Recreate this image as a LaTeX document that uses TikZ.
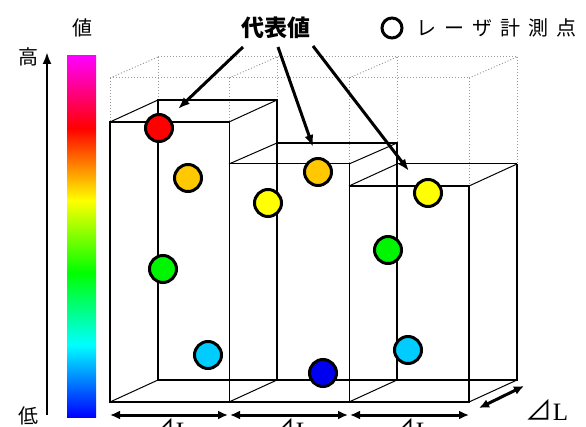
\documentclass[tikz,border=0pt]{standalone}
\usepackage{fontspec}
\setmainfont{Liberation Serif}
\newfontfamily\jp{Noto Sans CJK JP}
\usetikzlibrary{arrows.meta}
\pgfdeclareverticalshading{rainbowbar}{100bp}{color(0bp)=(blue); color(25bp)=(blue); color(35bp)=(cyan); color(45bp)=(green); color(55bp)=(yellow); color(65bp)=(red); color(75bp)=(magenta); color(100bp)=(magenta)}
\definecolor{ptorange}{RGB}{255,200,0}
\definecolor{ptyellow}{RGB}{255,255,0}
\definecolor{ptgreen}{RGB}{0,245,0}
\definecolor{ptcyan}{RGB}{0,204,255}
\definecolor{ptblue}{RGB}{0,0,240}
\definecolor{ptred}{RGB}{255,0,0}
\tikzset{
  thickedge/.style={line width=2.6pt, line join=miter},
  thinedge/.style={line width=1pt},
  maxgrid/.style={draw=gray!80, line width=1pt, dotted},
  pt/.style={circle, draw=black, line width=3pt, minimum size=27pt, inner sep=0pt},
  bigarrow/.style={line width=3pt, -{Latex[length=12pt,width=9pt]}},
  dimarrow/.style={line width=3pt, {Latex[length=10pt,width=9pt]}-{Latex[length=10pt,width=9pt]}},
  jplabel/.style={font=\jp\fontsize{20}{20}\selectfont, inner sep=0pt},
  dl/.style={font=\fontsize{25}{25}\selectfont, inner sep=0pt}
}
\newcommand{\dL}{{\jp\fontsize{27}{27}\selectfont ⊿}L}
\begin{document}
\begin{tikzpicture}[x=1pt,y=-1pt]
\useasboundingbox (0,0) rectangle (586,427);
\fill[white] (0,0) rectangle (586,427);

% colour bar
\shade[shading=rainbowbar] (67,56) rectangle (96,417);

% value axis
\coordinate (axlow) at (47,415);
\coordinate (axhigh) at (47,52);
\draw[line width=2.4pt, -{Latex[length=12pt,width=9pt]}] (axlow) -- (axhigh);
\node[jplabel] (hi) at (28,57) {高};
\node[jplabel] (lo) at (28,416) {低};
\node[jplabel] (val) at (82,28) {値};

% dotted max envelope
\draw[maxgrid] (110,78) -- (469,78);
\draw[maxgrid] (158,57) -- (517,57);
\foreach \x/\y in {110/122,229/122,349/164,469/186} \draw[maxgrid] (\x,78) -- (\x,\y);
\foreach \x/\y in {158/100,277/100,397/143,517/164} \draw[maxgrid] (\x,57) -- (\x,\y);
\foreach \x in {110,229,349,469} \draw[maxgrid] (\x,78) -- (\x+48,57);

% boxes: thin edges
\draw[thinedge] (229,122) -- (229,402);
\draw[thinedge] (229,164) -- (349,164) -- (349,402);
\draw[thinedge] (397,164) -- (517,164);
\draw[thinedge] (110,122) -- (158,100);
\draw[thinedge] (229,122) -- (277,100);
\draw[thinedge] (229,164) -- (277,143);
\draw[thinedge] (349,164) -- (397,143);
\draw[thinedge] (349,186) -- (397,164);
\draw[thinedge] (469,186) -- (517,164);
\foreach \x in {110,229,349,469} \draw[thinedge] (\x,402) -- (\x+48,380);

% boxes: thick edges
\draw[thickedge] (110,402) -- (110,122) -- (229,122);
\draw[thickedge] (158,380) -- (158,100) -- (277,100) -- (277,380);
\draw[thickedge] (277,143) -- (397,143) -- (397,380);
\draw[thickedge] (349,186) -- (469,186) -- (469,402);
\draw[thickedge] (517,164) -- (517,380);
\draw[thickedge] (109,402) -- (470,402);
\draw[thickedge] (157,380) -- (518,380);

% measurement points
\node[pt, fill=ptred]    (p1) at (159,128) {};
\node[pt, fill=ptorange] (p2) at (188,178) {};
\node[pt, fill=ptgreen]  (p3) at (163,269) {};
\node[pt, fill=ptcyan]   (p4) at (208,355) {};
\node[pt, fill=ptyellow] (p5) at (268,203) {};
\node[pt, fill=ptorange] (p6) at (318,172) {};
\node[pt, fill=ptblue]   (p7) at (323,373) {};
\node[pt, fill=ptyellow] (p8) at (428,193) {};
\node[pt, fill=ptgreen]  (p9) at (388,250) {};
\node[pt, fill=ptcyan]   (p10) at (408,350) {};

% representative value label and arrows
\node[font=\jp\bfseries\fontsize{23}{23}\selectfont, inner sep=0pt] (rep) at (276,28) {代表値};
\coordinate (r1s) at (243,47);
\coordinate (r1e) at (178,109);
\coordinate (r2s) at (278,47);
\coordinate (r2e) at (313,147);
\coordinate (r3s) at (313,46);
\coordinate (r3e) at (409,171);
\draw[bigarrow] (r1s) -- (r1e);
\draw[bigarrow] (r2s) -- (r2e);
\draw[bigarrow] (r3s) -- (r3e);

% legend
\node[circle, draw=black, line width=3pt, minimum size=20pt, inner sep=0pt] (legpt) at (392,28) {};
\node[jplabel, anchor=west] (legtxt) at (416,28) {レ\hspace{8pt}ー\hspace{8pt}ザ\hspace{8pt}計\hspace{8pt}測\hspace{8pt}点};

% dimension arrows
\coordinate (d0) at (110,415);
\coordinate (d1) at (229,415);
\coordinate (d2) at (349,415);
\coordinate (d3) at (469,415);
\draw[dimarrow] (d0) -- ([xshift=-1pt]d1);
\draw[dimarrow] ([xshift=1pt]d1) -- ([xshift=-1pt]d2);
\draw[dimarrow] ([xshift=1pt]d2) -- (d3);
\node[dl] (l1) at (170,429) {\dL};
\node[dl] (l2) at (290,429) {\dL};
\node[dl] (l3) at (410,429) {\dL};
\coordinate (dd0) at (479,408);
\coordinate (dd1) at (524,386);
\draw[dimarrow] (dd0) -- (dd1);
\node[dl] (l4) at (547,410) {\dL};
\end{tikzpicture}
\end{document}
